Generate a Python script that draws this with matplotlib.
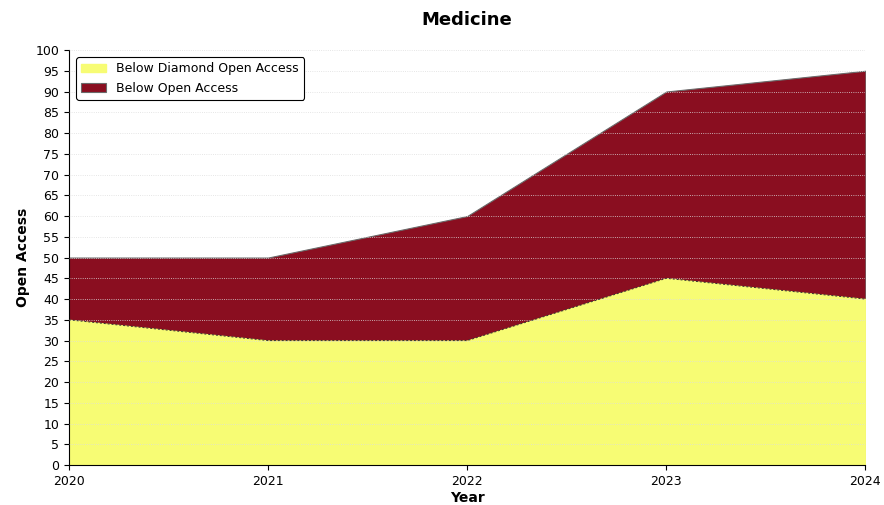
import numpy as np
import matplotlib.pyplot as plt

years = [2020, 2021, 2022, 2023, 2024]
open_access = [50, 50, 60, 90, 95]
diamond_oa = [35, 30, 30, 45, 40]

fig, ax = plt.subplots(figsize=(8.84, 5.05), dpi=100)
ax.fill_between(years, 0, open_access, color='#8a0e20', label='Below Open Access',
                edgecolor='#6a6a6a', linewidth=0.8, zorder=1)
ax.fill_between(years, 0, diamond_oa, color='#f7fc74', label='Below Diamond Open Access',
                zorder=2)
ax.plot(years, diamond_oa, color='#333333', linestyle=(0, (2, 2)), linewidth=0.7, zorder=3)

ax.set_xlim(2020, 2024)
ax.set_ylim(0, 100)
ax.set_xticks(years)
ax.set_yticks(np.arange(0, 101, 5))
ax.tick_params(labelsize=9)
ax.grid(axis='y', linestyle=':', color='#dddddd', linewidth=0.6, zorder=4)
ax.set_axisbelow(False)
for s in ['top', 'right']:
    ax.spines[s].set_visible(False)

ax.set_title('Medicine', fontweight='bold', fontsize=13, pad=18)
ax.set_xlabel('Year', fontweight='bold', fontsize=10, labelpad=2)
ax.set_ylabel('Open Access', fontweight='bold', fontsize=10)

h, l = ax.get_legend_handles_labels()
leg = ax.legend(h[::-1], l[::-1], loc='upper left', fancybox=True, framealpha=1,
                edgecolor='black', fontsize=9, borderaxespad=0.6)
leg.get_frame().set_linewidth(0.8)

plt.subplots_adjust(left=0.078, right=0.979, top=0.901, bottom=0.079)
plt.savefig('out.png')
